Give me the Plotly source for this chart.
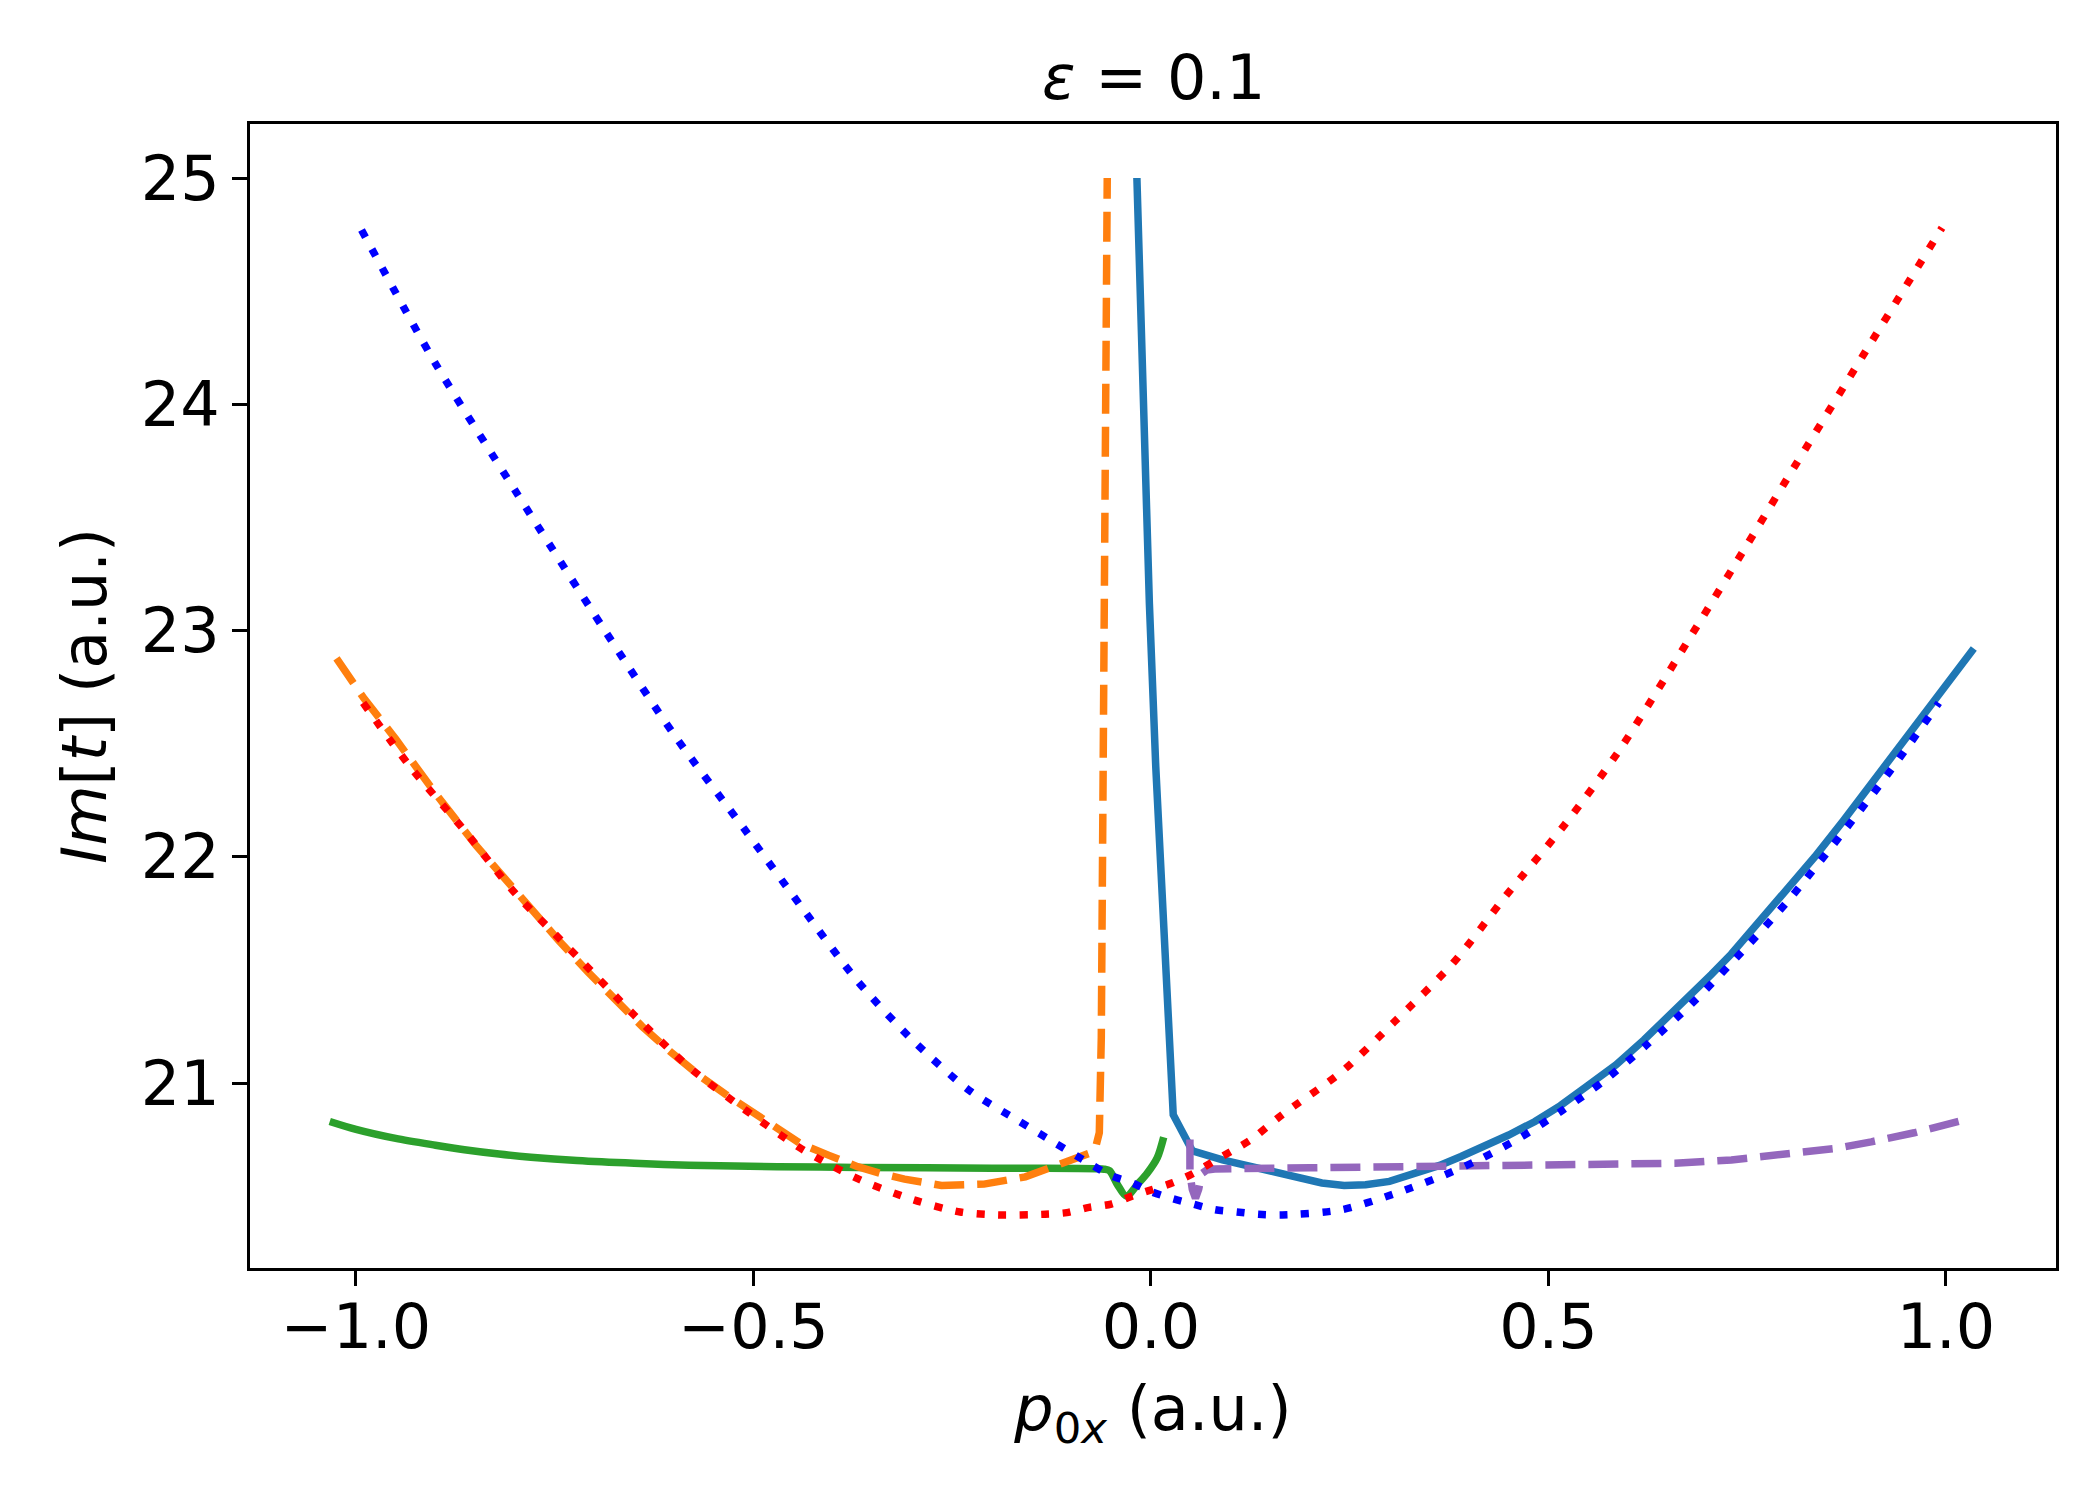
import plotly.graph_objects as go

# values
blue_dot_x = [-0.993, -0.9, -0.8, -0.687, -0.6, -0.511, -0.44, -0.369, -0.3, -0.228, -0.17, -0.123,
              -0.0755, -0.05, -0.025, 0.0, 0.026, 0.053, 0.0805, 0.108, 0.135, 0.165, 0.24, 0.306,
              0.36, 0.412, 0.465, 0.518, 0.57, 0.624, 0.68, 0.73, 0.8, 0.871, 0.93, 0.991]
blue_dot_y = [24.77, 24.18, 23.62, 23.00, 22.54, 22.12, 21.78, 21.45, 21.19, 20.966, 20.84, 20.74,
              20.64, 20.59, 20.56, 20.52, 20.49, 20.465, 20.44, 20.43, 20.42, 20.417, 20.44, 20.51,
              20.58, 20.66, 20.76, 20.88, 21.01, 21.17, 21.35, 21.53, 21.80, 22.11, 22.38, 22.68]

red_dot_x = [-0.991, -0.93, -0.8635, -0.8, -0.722, -0.65, -0.581, -0.51, -0.44, -0.369, -0.299,
             -0.24, -0.193, -0.133, -0.106, -0.078, -0.05, -0.024, 0.0025, 0.028, 0.053, 0.077,
             0.102, 0.126, 0.165, 0.24, 0.306, 0.38, 0.447, 0.52, 0.589, 0.687, 0.75, 0.8, 0.9, 0.995]
red_dot_y = [22.68, 22.39, 22.116, 21.84, 21.56, 21.30, 21.07, 20.88, 20.71, 20.577, 20.484,
             20.43, 20.417, 20.42, 20.427, 20.45, 20.465, 20.50, 20.53, 20.56, 20.60, 20.65,
             20.70, 20.75, 20.86, 21.05, 21.27, 21.53, 21.83, 22.14, 22.47, 23.02, 23.38, 23.67, 24.24, 24.78]

orange_x = [-1.0245, -0.99, -0.95, -0.9, -0.849, -0.815, -0.78, -0.745, -0.708, -0.675, -0.64,
            -0.605, -0.567, -0.535, -0.5, -0.47, -0.44, -0.405, -0.369, -0.34, -0.31, -0.2635,
            -0.21, -0.158, -0.125, -0.101, -0.077, -0.07, -0.065, -0.0625, -0.061, -0.059,
            -0.057, -0.056, -0.055]
orange_y = [22.877, 22.70, 22.52, 22.28, 22.05, 21.91, 21.77, 21.63, 21.49, 21.37, 21.25,
            21.14, 21.03, 20.95, 20.87, 20.80, 20.73, 20.68, 20.63, 20.60, 20.575, 20.547,
            20.553, 20.585, 20.625, 20.66, 20.69, 20.71, 20.78, 21.2, 21.8, 22.5,
            23.3, 24.1, 25.0]

tab_blue_x = [-0.0177, -0.010, -0.002, 0.006, 0.014, 0.021, 0.026, 0.028, 0.040, 0.052, 0.09,
              0.1296, 0.16, 0.19, 0.215, 0.243, 0.27, 0.30, 0.33, 0.363, 0.39, 0.42, 0.45, 0.483,
              0.515, 0.55, 0.585, 0.62, 0.65, 0.68, 0.705, 0.73, 0.765, 0.80, 0.835, 0.871, 0.91,
              0.95, 0.99, 1.035]
tab_blue_y = [25.0, 24.0, 23.12, 22.4, 21.8, 21.3, 20.98, 20.86, 20.78, 20.70, 20.66,
              20.627, 20.60, 20.575, 20.558, 20.547, 20.55, 20.565, 20.595, 20.636, 20.675, 20.72,
              20.77, 20.83, 20.90, 20.99, 21.08, 21.19, 21.29, 21.39, 21.48, 21.57, 21.71, 21.85,
              22.00, 22.16, 22.34, 22.52, 22.71, 22.92]

green_x = [-1.033, -1.0, -0.95, -0.9, -0.8635, -0.82, -0.78, -0.722, -0.65, -0.581, -0.47,
           -0.369, -0.2, -0.059, -0.052, -0.042, -0.031, -0.015, -0.005, 0.008, 0.016]
green_y = [20.83, 20.795, 20.755, 20.725, 20.705, 20.686, 20.672, 20.657, 20.645, 20.637, 20.63,
           20.627, 20.623, 20.619, 20.612, 20.55, 20.50, 20.56, 20.60, 20.67, 20.76]

purple_x = [0.049, 0.049, 0.052, 0.056, 0.060, 0.064, 0.070, 0.08, 0.2, 0.377, 0.5, 0.6, 0.659,
            0.73, 0.80, 0.86, 0.906, 0.96, 1.026]
purple_y = [20.75, 20.60, 20.53, 20.49, 20.53, 20.60, 20.615, 20.62, 20.625, 20.63, 20.635, 20.64,
            20.645, 20.66, 20.687, 20.71, 20.74, 20.78, 20.84]

x_ticks = [-1.0, -0.5, 0.0, 0.5, 1.0]
y_ticks = [21, 22, 23, 24, 25]

FONT = "DejaVu Sans"
LW = 7.5
DASHED = "30px,13px"
DOTTED = "8px,13.5px"

fig = go.Figure()

curves = [
    (green_x, green_y, "#2ca02c", "solid", "spline"),
    (tab_blue_x, tab_blue_y, "#1f77b4", "solid", "linear"),
    (orange_x, orange_y, "#ff7f0e", DASHED, "linear"),
    (purple_x, purple_y, "#9467bd", DASHED, "linear"),
    (blue_dot_x, blue_dot_y, "blue", DOTTED, "spline"),
    (red_dot_x, red_dot_y, "red", DOTTED, "spline"),
]
for xs, ys, color, dash, shape in curves:
    fig.add_trace(
        go.Scatter(
            x=xs,
            y=ys,
            mode="lines",
            line={"color": color, "width": LW, "dash": dash, "shape": shape, "smoothing": 0.8},
            showlegend=False,
        )
    )

axis_common = dict(
    showline=True,
    linecolor="black",
    linewidth=3,
    mirror=True,
    showgrid=False,
    zeroline=False,
    ticks="outside",
    ticklen=15,
    tickwidth=3,
    tickcolor="black",
    tickfont={"family": FONT, "size": 62, "color": "black"},
)

fig.update_layout(
    width=2100,
    height=1500,
    margin={"l": 242, "r": 52, "t": 116, "b": 240},
    paper_bgcolor="white",
    plot_bgcolor="white",
    font={"family": FONT, "color": "black"},
    xaxis=dict(
        axis_common,
        range=[-1.1333, 1.1384],
        tickvals=x_ticks,
        tickformat=".1f",
        ticklabelstandoff=-12,
        title={"text": "<i>p</i><sub>0<i>x</i></sub> (a.u.)", "font": {"family": FONT, "size": 62}, "standoff": 25},
    ),
    yaxis=dict(
        axis_common,
        range=[20.1823, 25.2387],
        tickvals=y_ticks,
        title={"text": "<i>Im</i>[<i>t</i>] (a.u.)", "font": {"family": FONT, "size": 62}, "standoff": 14},
    ),
    annotations=[
        dict(
            text="<i>ε</i> = 0.1",
            x=0.5,
            y=1,
            xref="paper",
            yref="paper",
            xanchor="center",
            yanchor="bottom",
            yshift=8,
            showarrow=False,
            font={"family": FONT, "size": 62, "color": "black"},
        )
    ],
)

fig.write_html("out.html")
